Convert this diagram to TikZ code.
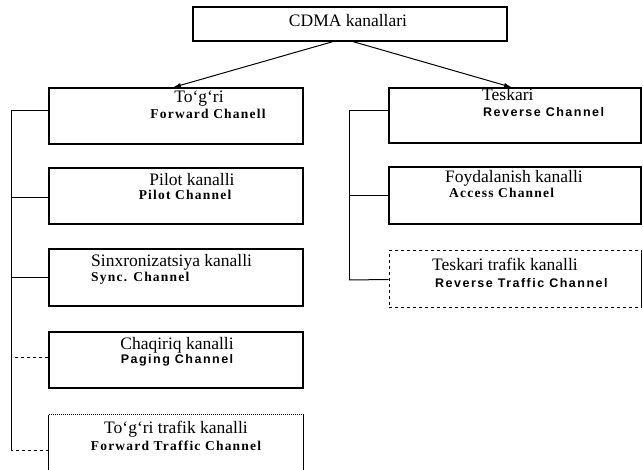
\documentclass[tikz,border=0pt]{standalone}
\usepackage{fontspec}
\setmainfont{Liberation Serif}
\newfontfamily\serbold[LetterSpace=9]{Liberation Serif}
\newfontfamily\sanbold[LetterSpace=12]{Liberation Sans}
\usetikzlibrary{arrows.meta}

\begin{document}
\begin{tikzpicture}[x=1pt,y=-1pt,
  box/.style={draw=black, line width=1.2pt, rectangle, inner sep=0pt,
              minimum width=254pt, minimum height=56pt},
  rbox/.style={box, minimum width=252pt},
  conn/.style={draw=black, line width=1pt},
  arr/.style={draw=black, line width=1pt, -{Latex[length=8pt,width=4.5pt]}},
  uz/.style={inner sep=0pt, text height=0.68em, text depth=0pt,
             font=\fontsize{17.5}{20}\selectfont},
  en/.style={inner sep=0pt, text height=0.68em, text depth=0pt,
             font=\serbold\bfseries\fontsize{13.5}{16}\selectfont},
  ens/.style={inner sep=0pt, text height=0.7em, text depth=0pt,
              font=\sanbold\bfseries\fontsize{12.5}{14}\selectfont}]

  \useasboundingbox[fill=white] (0,0) rectangle (643,470);

  % root
  \node[box, minimum width=314pt, minimum height=34pt] (top) at (350,24) {};
  \node[uz] (topA) at (348,23) {CDMA kanallari};

  % forward branch
  \node[box] (fwd) at (176,116) {};
  \node[box] (pil) at (176,196) {};
  \node[box, minimum height=57pt] (syn) at (176,277.5) {};
  \node[box] (pag) at (176,360) {};
  \node[draw=none, inner sep=0pt, minimum width=254pt, minimum height=70pt] (ftc) at (176,450) {};
  \draw[line width=1.2pt] (ftc.north west) -- (ftc.south west);
  \draw[line width=1.2pt] (ftc.north east) -- (ftc.south east);
  \draw[line width=1pt, densely dotted] (ftc.north west) -- (ftc.north east);

  % reverse branch
  \node[rbox, minimum height=55pt] (rev) at (515,115.5) {};
  \node[rbox, minimum height=57pt] (acc) at (515,195.5) {};
  \node[draw=black, line width=1pt, dashed, inner sep=0pt,
        minimum width=252pt, minimum height=57pt] (rtc) at (515,279.5) {};
  \draw[line width=1.2pt] (rtc.north east) -- (rtc.south east);

  % labels
  \node[uz] (fwdA) at (199,99) {To‘g‘ri};
  \node[en] (fwdB) at (208,115) {Forward Chanell};
  \node[uz] (pilA) at (192,182) {Pilot kanalli};
  \node[en] (pilB) at (185,196) {Pilot Channel};
  \node[uz, anchor=west] (synA) at (91,263) {Sinxronizatsiya kanalli};
  \node[en, anchor=west] (synB) at (91,278) {Sync. Channel};
  \node[uz] (pagA) at (177,346) {Chaqiriq kanalli};
  \node[ens] (pagB) at (177,360) {Paging Channel};
  \node[uz] (ftcA) at (176,430) {To‘g‘ri trafik kanalli};
  \node[en] (ftcB) at (176,447) {Forward Traffic Channel};

  \node[uz, anchor=west] (revA) at (482,97) {Teskari};
  \node[ens, anchor=west] (revB) at (483,113) {Reverse Channel};
  \node[uz, anchor=west] (accA) at (445,179) {Foydalanish kanalli};
  \node[en, anchor=west] (accB) at (449,194) {Access Channel};
  \node[uz, anchor=west] (rtcA) at (432,267) {Teskari trafik kanalli};
  \node[ens, anchor=west] (rtcB) at (435,284) {Reverse Traffic Channel};

  % arrows from the root
  \draw[arr] ([xshift=-17pt]top.south) -- ([xshift=-3pt]fwd.north);
  \draw[arr] ([xshift=3pt]top.south) -- ([xshift=-3pt]rev.north);

  % left trunk
  \coordinate (ltop) at (11,111);
  \coordinate (lbot) at (11,450);
  \draw[conn] (ltop) -- (lbot);
  \draw[conn] ([yshift=5pt]fwd.west) -- ([yshift=5pt]fwd.west -| ltop);
  \draw[conn] ([yshift=-2pt]pil.west) -- ([yshift=-2pt]pil.west -| ltop);
  \draw[conn] (syn.west) -- (syn.west -| ltop);
  \draw[conn, dashed] ([yshift=2pt]pag.west) -- ([yshift=2pt]pag.west -| ltop);
  \draw[conn, dashed] (ftc.west) -- (lbot);

  % right trunk
  \coordinate (rtop) at (349,111);
  \coordinate (rbot) at (349,280);
  \draw[conn] (rtop) -- (rbot);
  \draw[conn] ([yshift=4.5pt]rev.west) -- ([yshift=4.5pt]rev.west -| rtop);
  \draw[conn] (acc.west) -- (acc.west -| rtop);
  \draw[conn] (rtc.west) -- (rbot);
\end{tikzpicture}
\end{document}
